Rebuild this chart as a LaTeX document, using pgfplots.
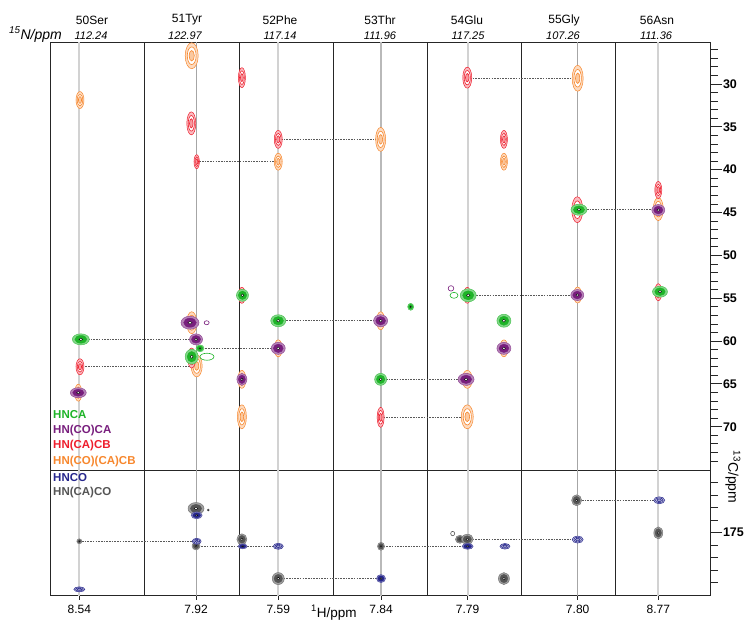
\documentclass[border=0pt]{standalone}
\usepackage{pgfplots}
\pgfplotsset{compat=1.18}
\usepackage{fontspec}
\setmainfont{Liberation Sans}

\definecolor{cCA}{RGB}{30,180,40}
\definecolor{cCOCA}{RGB}{120,30,125}
\definecolor{cCB}{RGB}{238,30,45}
\definecolor{cCOCB}{RGB}{247,135,45}
\definecolor{cCO}{RGB}{38,38,140}
\definecolor{cCACO}{RGB}{85,85,85}

% contour-like peaks: colour, half width, half height (pt), point
\newcommand{\pkring}[4]{%
  \addplot[only marks, mark=*, mark size=1pt, mark options={xscale=#2, yscale=#3, draw=#1, fill=#1!30, line width=0.5pt}] coordinates {#4};
  \addplot[only marks, mark=*, mark size=1pt, mark options={xscale=0.68*#2, yscale=0.68*#3, draw=#1, fill=white, line width=0.6pt}] coordinates {#4};
  \addplot[only marks, mark=*, mark size=1pt, mark options={xscale=0.4*#2, yscale=0.4*#3, draw=#1, fill=#1!45, line width=0.6pt}] coordinates {#4};
}
\newcommand{\pksolid}[4]{%
  \addplot[only marks, mark=*, mark size=1pt, mark options={xscale=#2, yscale=#3, draw=#1!80, fill=#1!55, line width=0.5pt}] coordinates {#4};
  \addplot[only marks, mark=*, mark size=1pt, mark options={xscale=0.7*#2, yscale=0.7*#3, draw=#1, fill=#1, line width=0.4pt}] coordinates {#4};
  \addplot[only marks, mark=*, mark size=1pt, mark options={xscale=0.22*#2, yscale=0.22*#3, draw=none, fill=white}] coordinates {#4};
}
\newcommand{\pkopen}[4]{%
  \addplot[only marks, mark=o, mark size=1pt, mark options={xscale=#2, yscale=#3, draw=#1, line width=0.6pt}] coordinates {#4};
}
% dashed sequential link: x from, x to, ppm
\newcommand{\lnk}[3]{%
  \addplot[black!65, line width=0.9pt, dash pattern=on 1.6pt off 1.1pt] coordinates {(#1,#3) (#2,#3)};
}
\newcommand{\ppmlines}[2]{%
  \addplot[gray!35, line width=1.9pt] coordinates {(0.304,#1) (0.304,#2)};
  \addplot[gray!70, line width=0.9pt] coordinates {(1.543,#1) (1.543,#2)};
  \addplot[gray!35, line width=1.9pt] coordinates {(2.416,#1) (2.416,#2)};
  \addplot[gray!55, line width=1.3pt] coordinates {(3.507,#1) (3.507,#2)};
  \addplot[gray!35, line width=1.9pt] coordinates {(4.427,#1) (4.427,#2)};
  \addplot[gray!70, line width=0.9pt] coordinates {(5.595,#1) (5.595,#2)};
  \addplot[gray!35, line width=1.9pt] coordinates {(6.451,#1) (6.451,#2)};
  \pgfplotsinvokeforeach{1,...,6}{\addplot[black!85, line width=0.9pt] coordinates {(##1,#1) (##1,#2)};}
}

\pgfplotsset{strip/.style={
    scale only axis, width=659.3pt, xmin=0, xmax=7, y dir=reverse,
    anchor=north west,
    axis line style={black!85, line width=0.9pt},
    xtick=\empty,
    ytick pos=right, yticklabel pos=right, tick align=outside,
    major tick length=12pt, minor tick length=7.5pt,
    tick style={black!85, line width=0.8pt},
    yticklabel style={font=\fontsize{12.5}{13}\selectfont\bfseries, xshift=-2.5pt},
    /pgf/number format/assume math mode=true,
}}

\begin{document}
\begin{tikzpicture}
\useasboundingbox (0pt,0pt) rectangle (747pt,-621pt);

% C-alpha / C-beta panel
\begin{axis}[strip, at={(50.7pt,-42.7pt)}, height=427.3pt,
    ymin=25.18, ymax=75.05, ytick={30,35,...,70}, minor ytick={26,...,74}]
\ppmlines{20}{80}
% HN(CO)(CA)CB
\pkring{cCOCB}{4}{8.5}{(0.311,31.87)}
\pkring{cCOCB}{6.5}{13}{(1.497,26.70)}
\pkring{cCOCB}{4}{8.5}{(2.416,39.07)}
\pkring{cCOCB}{5}{12}{(3.503,36.46)}
\pkring{cCOCB}{3.5}{8.5}{(4.812,39.07)}
\pkring{cCOCB}{5.5}{13}{(5.595,29.33)}
\pkring{cCOCB}{4.5}{12}{(2.030,68.84)}
\pkring{cCOCB}{6}{12}{(4.423,68.84)}
\pkring{cCOCB}{5.5}{11}{(1.55,62.9)}
\pkring{cCOCB}{3.5}{8.5}{(0.293,66.03)}
\pkring{cCOCB}{5}{11}{(1.497,57.86)}
\pkring{cCOCB}{4}{9}{(3.503,57.63)}
\pkring{cCOCB}{4}{8.5}{(2.416,60.85)}
\pkring{cCOCB}{4}{9}{(2.030,64.47)}
\pkring{cCOCB}{5}{9}{(4.423,64.47)}
\pkring{cCOCB}{4}{8.5}{(4.812,60.85)}
\pkring{cCOCB}{5}{11.5}{(6.451,44.6)}
\pkring{cCOCB}{4}{8}{(5.595,54.63)}
% HN(CA)CB
\pkring{cCB}{4.5}{11.5}{(1.493,34.59)}
\pkring{cCB}{2.7}{7}{(1.550,39.07)}
\pkring{cCB}{3.5}{10}{(2.030,29.26)}
\pkring{cCB}{4}{9}{(2.416,36.46)}
\pkring{cCB}{4.5}{10.5}{(4.423,29.26)}
\pkring{cCB}{3.5}{9}{(4.812,36.46)}
\pkring{cCB}{4}{8}{(0.311,63.0)}
\pkring{cCB}{3.5}{10}{(3.503,68.9)}
\pkring{cCB}{5.5}{13}{(5.591,44.67)}
\pkring{cCB}{3.5}{8.5}{(6.451,42.37)}
\pkring{cCB}{4}{10}{(1.497,61.98)}
\pkring{cCB}{3.5}{8}{(2.030,54.66)}
\pkring{cCB}{3.5}{8}{(4.423,54.66)}
\pkring{cCB}{3.5}{8.5}{(6.451,54.3)}
% HNCA
\pksolid{cCA}{8.5}{5.5}{(0.32,59.80)}
\pksolid{cCA}{6}{6}{(2.036,54.66)}
\pksolid{cCA}{7.5}{6}{(2.416,57.63)}
\pksolid{cCA}{6}{6}{(3.503,64.47)}
\pksolid{cCA}{3}{3.5}{(3.822,56.0)}
\pkopen{cCA}{4}{3}{(4.282,54.66)}
\pksolid{cCA}{8}{6.5}{(4.433,54.66)}
\pksolid{cCA}{7}{6.5}{(4.812,57.63)}
\pksolid{cCA}{8}{5.5}{(5.609,44.67)}
\pksolid{cCA}{7.5}{5.5}{(6.469,54.24)}
\pksolid{cCA}{6.5}{7.5}{(1.497,61.83)}
\pksolid{cCA}{4}{3.5}{(1.585,60.85)}
\pkopen{cCA}{7}{3.5}{(1.659,61.83)}
% HN(CO)CA
\pksolid{cCOCA}{6.5}{5.5}{(1.543,59.80)}
\pksolid{cCOCA}{8}{5}{(0.293,66.03)}
\pksolid{cCOCA}{9}{6.5}{(1.479,57.86)}
\pkopen{cCOCA}{2.5}{2}{(1.656,57.86)}
\pksolid{cCOCA}{7}{6}{(2.416,60.85)}
\pksolid{cCOCA}{5}{6}{(2.030,64.47)}
\pksolid{cCOCA}{7}{6}{(3.503,57.63)}
\pksolid{cCOCA}{8}{6}{(4.41,64.47)}
\pksolid{cCOCA}{7}{6}{(4.812,60.85)}
\pksolid{cCOCA}{6.5}{5.5}{(5.591,54.63)}
\pksolid{cCOCA}{6.5}{5.5}{(6.451,44.71)}
\pkopen{cCOCA}{2.8}{2.7}{(4.250,53.85)}
% sequential walk
\lnk{0.311}{1.543}{59.80}
\lnk{0.311}{1.55}{62.95}
\lnk{1.585}{2.416}{60.85}
\lnk{1.550}{2.416}{39.07}
\lnk{2.416}{3.503}{36.46}
\lnk{2.416}{3.503}{57.63}
\lnk{3.503}{4.423}{64.47}
\lnk{3.503}{4.423}{68.87}
\lnk{4.423}{5.595}{29.3}
\lnk{4.433}{5.591}{54.65}
\lnk{5.609}{6.451}{44.69}
\end{axis}

% carbonyl panel
\begin{axis}[strip, at={(50.7pt,-470pt)}, height=125.7pt,
    ymin=170, ymax=180.05, ytick={175}, minor ytick={171,...,179},
    xtick={0.304,1.543,2.416,3.507,4.427,5.595,6.451},
    xticklabels={8.54,7.92,7.59,7.84,7.79,7.80,8.77},
    xtick pos=lower, xtick style={draw=none},
    xticklabel style={font=\fontsize{12}{13}\selectfont, yshift=6pt}]
\ppmlines{160}{190}
% HN(CA)CO
\pksolid{cCACO}{2.5}{2.5}{(0.304,175.70)}
\pksolid{cCACO}{8}{6}{(1.543,173.08)}
\pksolid{cCACO}{1}{1}{(1.673,173.2)}
\pksolid{cCACO}{4}{4}{(1.543,176.07)}
\pksolid{cCACO}{5}{5.5}{(2.030,175.54)}
\pksolid{cCACO}{6}{6}{(2.416,178.68)}
\pksolid{cCACO}{3.5}{4}{(3.507,176.1)}
\pksolid{cCACO}{4.5}{4}{(4.345,175.54)}
\pksolid{cCACO}{6}{5}{(4.423,175.54)}
\pkopen{cCACO}{2}{2.2}{(4.268,175.08)}
\pksolid{cCACO}{5.5}{6}{(4.812,178.68)}
\pksolid{cCACO}{5}{5.5}{(5.584,172.42)}
\pksolid{cCACO}{4.5}{6}{(6.451,175.03)}
% HNCO
\pkring{cCO}{5.5}{2.5}{(0.304,179.54)}
\pksolid{cCO}{5.5}{3.5}{(1.55,173.62)}
\pkring{cCO}{4.5}{3}{(1.55,175.70)}
\pksolid{cCO}{4.5}{2.5}{(2.038,176.1)}
\pkring{cCO}{5}{3}{(2.416,176.1)}
\pksolid{cCO}{4.5}{4}{(3.507,178.68)}
\pksolid{cCO}{5.5}{3}{(4.427,176.1)}
\pkring{cCO}{5}{2.8}{(4.823,176.1)}
\pkring{cCO}{5.5}{3.5}{(5.595,175.56)}
\pkring{cCO}{5.5}{3.5}{(6.461,172.42)}
% sequential walk
\lnk{0.304}{1.55}{175.70}
\lnk{1.543}{2.416}{176.1}
\lnk{2.416}{3.507}{178.68}
\lnk{3.507}{4.427}{176.1}
\lnk{4.423}{5.595}{175.55}
\lnk{5.584}{6.461}{172.42}
\end{axis}

% bottom tick marks
\foreach \x in {79.3,196,278.3,381,467.7,577.7,658.3}
  \draw[black!85, line width=0.8pt] (\x pt,-595.7pt) -- (\x pt,-600pt);

% strip headers
\foreach \x/\t in {92/50Ser,187/51Tyr,280/52Phe,380/53Thr,467/54Glu,564/55Gly,657/56Asn}
  \node[font=\fontsize{12}{14}\selectfont] at (\x pt,-20pt) {\t};
\foreach \x/\t in {91/112.24,185/122.97,280/117.14,380/111.96,468/117.25,563/107.26,656/111.36}
  \node[font=\fontsize{11}{13}\selectfont\itshape] at (\x pt,-35.5pt) {\t};

% axis titles
\node[anchor=base west, inner sep=0pt, font=\fontsize{14}{16}\selectfont\itshape] at (9pt,-39pt) {\textsuperscript{15}N/ppm};
\node[anchor=south west, inner sep=0pt, font=\fontsize{13.5}{15}\selectfont] at (311pt,-620pt) {\textsuperscript{1}H/ppm};
\node[rotate=-90, inner sep=0pt, font=\fontsize{14}{16}\selectfont] at (733pt,-477pt) {\textsuperscript{13}C/ppm};

% experiment key
\foreach \y/\c/\t in {414.3/cCA/HNCA,430.7/cCOCA/HN(CO)CA,446/cCB/HN(CA)CB,461.7/cCOCB/HN(CO)(CA)CB,477.7/cCO/HNCO,492.7/cCACO/HN(CA)CO}
  \node[anchor=west, inner sep=0pt, text=\c, font=\bfseries\fontsize{11.5}{13}\selectfont] at (53pt,-\y pt) {\t};
\end{tikzpicture}
\end{document}
